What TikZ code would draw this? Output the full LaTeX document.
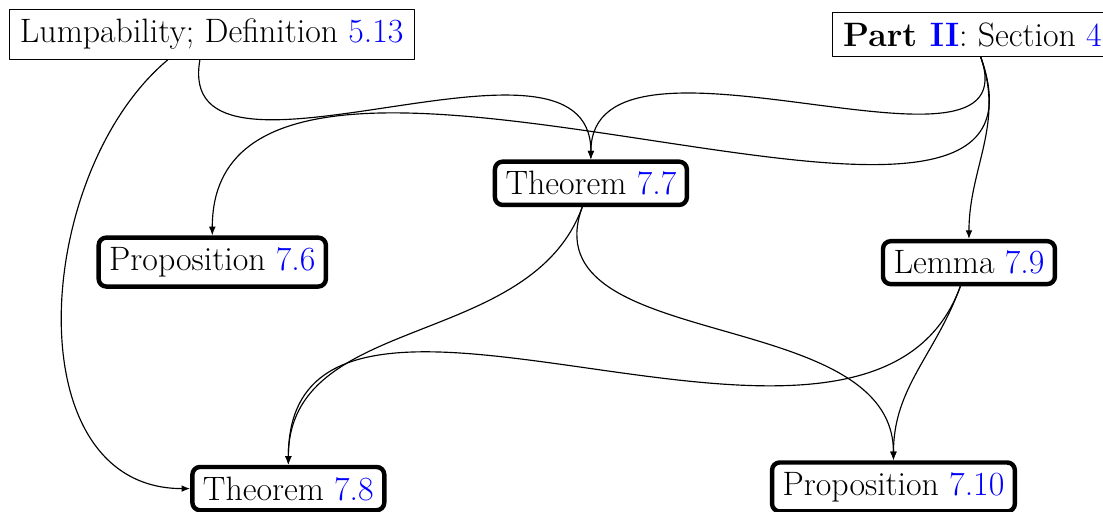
\documentclass[tikz,border=0pt]{standalone}
\usetikzlibrary{arrows.meta}
\newcommand{\refnum}[1]{\textcolor{blue}{#1}}
\newcommand{\nodefont}{\fontsize{17.6pt}{21pt}\selectfont}
\tikzset{
  src/.style={draw, line width=0.5pt, inner xsep=5.5pt, inner ysep=5pt, font=\nodefont},
  res/.style={draw, line width=2.3pt, rounded corners=4pt, inner xsep=5.5pt, inner ysep=5pt, font=\nodefont},
  dep/.style={-{Latex[length=4.5pt, width=3.5pt]}, line width=0.6pt},
}
\begin{document}
\begin{tikzpicture}[line join=round]
  \useasboundingbox (0,0) rectangle (20.16,-9.34);

  % sources
  \node[src] (lump) at (3.87,-0.63) {Lumpability; Definition \refnum{5.13}};
  \node[src, anchor=west] (partii) at (15.21,-0.63) {\textbf{Part \refnum{II}}: Section \refnum{4}};

  % results
  \node[res] (thm77) at (10.80,-3.35) {Theorem \refnum{7.7}};
  \node[res] (prop76) at (3.88,-4.79) {Proposition \refnum{7.6}};
  \node[res] (lem79) at (17.71,-4.80) {Lemma \refnum{7.9}};
  \node[res] (thm78) at (5.27,-8.93) {Theorem \refnum{7.8}};
  \node[res] (prop710) at (16.33,-8.90) {Proposition \refnum{7.10}};

  % dependencies
  \draw[dep] (lump.-150) to[out=-140, in=180, looseness=1.05] (thm78.west);
  \draw[dep] (lump.-115) to[out=-100, in=90] (thm77.north);
  \draw[dep] (partii.-70) to[out=-70, in=90] (thm77.north);
  \draw[dep] (partii.-70) to[out=-70, in=90] (prop76.north);
  \draw[dep] (partii.-70) to[out=-70, in=90] (lem79.north);
  \draw[dep] (thm77.-110) to[out=-110, in=90] (thm78.north);
  \draw[dep] (thm77.-110) to[out=-110, in=90] (prop710.north);
  \draw[dep] (lem79.-110) to[out=-110, in=90] (thm78.north);
  \draw[dep] (lem79.-110) to[out=-110, in=90] (prop710.north);
\end{tikzpicture}
\end{document}
